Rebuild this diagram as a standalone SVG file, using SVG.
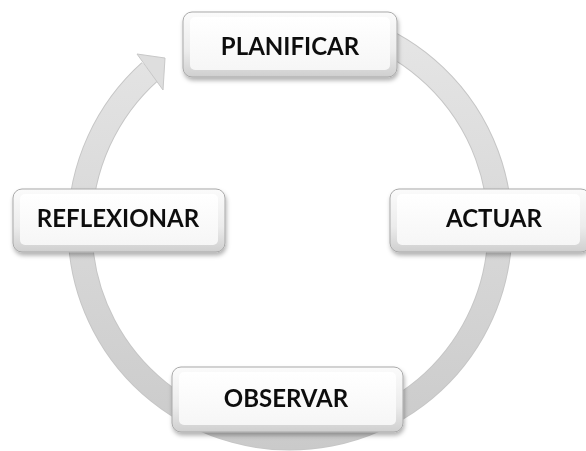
<svg xmlns="http://www.w3.org/2000/svg" width="586" height="451" viewBox="0 0 586 451">
<defs>
  <linearGradient id="ringG" gradientUnits="userSpaceOnUse" x1="0" y1="18" x2="0" y2="450">
    <stop offset="0" stop-color="#e6e6e6"/>
    <stop offset="1" stop-color="#cacaca"/>
  </linearGradient>
  <linearGradient id="bevel" x1="0" y1="0" x2="0" y2="1">
    <stop offset="0" stop-color="#fbfbfb"/>
    <stop offset="0.6" stop-color="#ececec"/>
    <stop offset="1" stop-color="#cfcfcf"/>
  </linearGradient>
  <linearGradient id="face" x1="0" y1="0" x2="0" y2="1">
    <stop offset="0" stop-color="#ffffff"/>
    <stop offset="1" stop-color="#f6f6f6"/>
  </linearGradient>
  <filter id="sh" x="-10%" y="-20%" width="125%" height="150%">
    <feDropShadow dx="1" dy="3" stdDeviation="2" flood-color="#000" flood-opacity="0.3"/>
  </filter>
</defs>
<style>
  .ringOut { fill: none; stroke: #c6c6c6; stroke-width: 25; }
  .ringIn { fill: none; stroke: url(#ringG); stroke-width: 23; }
  .head { fill: #dedede; stroke: #c8c8c8; stroke-width: 1; }
  .outer { fill: url(#bevel); stroke: #a9a9a9; stroke-width: 1; }
  .inner { fill: url(#face); stroke: none; }
  .lbl { font-family: Lato, "Open Sans", sans-serif; font-weight: bold; font-size: 24px; fill: #111; text-anchor: middle; }
</style>
<g id="connectors">
  <path class="ringOut" d="M 361.8 30.7 A 210 210 0 1 1 149.9 71.6"/>
  <path class="ringIn" d="M 361.8 30.7 A 210 210 0 1 1 149.9 71.6"/>
  <polygon class="head" points="137,54 165,58 163,90"/>
</g>
<g id="planificar" filter="url(#sh)">
  <rect class="outer" x="183" y="12" width="214" height="65" rx="9"/>
  <rect class="inner" x="190" y="17" width="200" height="53" rx="5"/>
  <text class="lbl" x="290" y="55">PLANIFICAR</text>
</g>
<g id="reflexionar" filter="url(#sh)">
  <rect class="outer" x="13" y="189" width="212" height="63" rx="9"/>
  <rect class="inner" x="20" y="194" width="198" height="51" rx="5"/>
  <text class="lbl" x="118" y="227">REFLEXIONAR</text>
</g>
<g id="actuar" filter="url(#sh)">
  <rect class="outer" x="390" y="189" width="200" height="63" rx="9"/>
  <rect class="inner" x="397" y="194" width="183" height="51" rx="5"/>
  <text class="lbl" x="494" y="227">ACTUAR</text>
</g>
<g id="observar" filter="url(#sh)">
  <rect class="outer" x="172" y="367" width="231" height="65" rx="9"/>
  <rect class="inner" x="179" y="372" width="217" height="53" rx="5"/>
  <text class="lbl" x="286" y="407">OBSERVAR</text>
</g>
</svg>
